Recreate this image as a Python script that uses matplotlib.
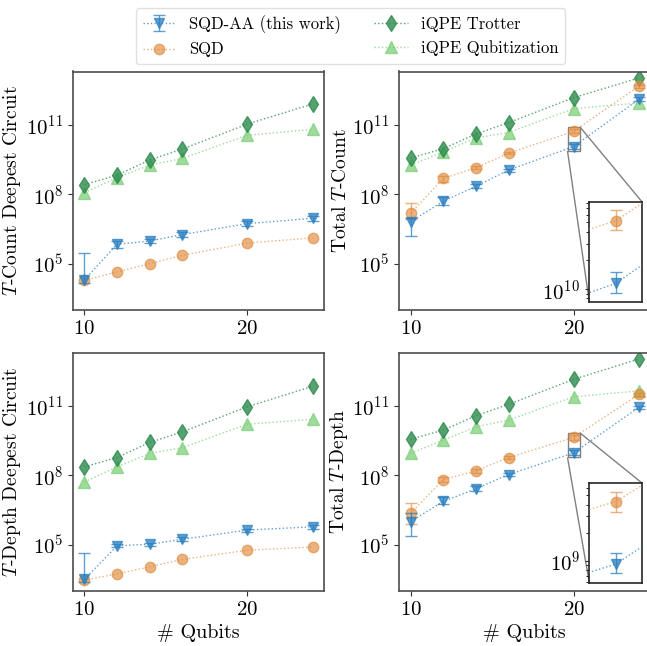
import numpy as np
import matplotlib
matplotlib.use("Agg")
import matplotlib.pyplot as plt
from matplotlib.ticker import FixedLocator, NullLocator, LogFormatterSciNotation, NullFormatter, LogLocator
from mpl_toolkits.axes_grid1.inset_locator import mark_inset

plt.rcParams.update({
    "font.family": "serif",
    "font.serif": ["cmr10"],
    "mathtext.fontset": "cm",
    "axes.formatter.use_mathtext": True,
    "axes.unicode_minus": False,
})

qubits = [10, 12, 14, 16, 20, 24]

# ---- T-Count Deepest Circuit ----
tcd_trotter = [2.6e8, 6.6e8, 3.0e9, 8.9e9, 1.07e11, 7.9e11]
tcd_qubit = [1.15e8, 5.2e8, 1.8e9, 3.5e9, 3.5e10, 6.3e10]
tcd_sqdaa = [2.0e4, 6.9e5, 9.5e5, 1.8e6, 5.4e6, 9.1e6]
tcd_sqdaa_lo = [1.5e4, 5.0e5, 8.0e5, 1.4e6, 4.3e6, 7.0e6]
tcd_sqdaa_hi = [2.9e5, 9.5e5, 1.15e6, 2.3e6, 6.8e6, 1.2e7]
tcd_sqd = [1.9e4, 4.4e4, 1.0e5, 2.3e5, 7.8e5, 1.3e6]

# ---- Total T-Count ----
ttc_trotter = [3.7e9, 9.3e9, 4.0e10, 1.23e11, 1.48e12, 1.05e13]
ttc_qubit = [1.8e9, 6.8e9, 2.7e10, 4.6e10, 5.0e11, 8.7e11]
ttc_sqd = [1.5e7, 4.8e8, 1.4e9, 5.9e9, 5.2e10, 4.6e12]
ttc_sqd_lo = [8.9e6, 3.5e8, 1.2e9, 5.2e9, 4.2e10, 4.0e12]
ttc_sqd_hi = [4.3e7, 6.3e8, 1.6e9, 6.6e9, 6.8e10, 5.2e12]
ttc_sqdaa = [6.5e6, 5.0e7, 2.2e8, 1.1e9, 1.15e10, 1.26e12]
ttc_sqdaa_lo = [1.5e6, 3.5e7, 1.8e8, 9.3e8, 9.1e9, 1.05e12]
ttc_sqdaa_hi = [9.8e6, 7.9e7, 2.8e8, 1.26e9, 1.5e10, 1.6e12]

# ---- T-Depth Deepest Circuit ----
tdd_trotter = [2.3e8, 5.8e8, 2.6e9, 7.4e9, 9.1e10, 6.9e11]
tdd_qubit = [5.1e7, 2.3e8, 8.7e8, 1.55e9, 1.6e10, 2.6e10]
tdd_sqdaa = [3.2e3, 8.9e4, 1.05e5, 1.7e5, 4.3e5, 5.9e5]
tdd_sqdaa_lo = [2.5e3, 7.6e4, 9.1e4, 1.4e5, 3.6e5, 5.0e5]
tdd_sqdaa_hi = [4.3e4, 1.12e5, 1.2e5, 2.1e5, 5.0e5, 7.1e5]
tdd_sqd = [3.0e3, 5.4e3, 1.1e4, 2.3e4, 5.8e4, 7.9e4]

# ---- Total T-Depth ----
ttd_trotter = [3.6e9, 8.9e9, 3.7e10, 1.15e11, 1.38e12, 1.05e13]
ttd_qubit = [8.7e8, 3.3e9, 1.23e10, 2.4e10, 2.45e11, 4.4e11]
ttd_sqd = [2.3e6, 6.5e7, 1.55e8, 5.8e8, 4.3e9, 3.1e11]
ttd_sqd_lo = [7.6e5, 5.0e7, 1.3e8, 5.0e8, 3.3e9, 2.7e11]
ttd_sqd_hi = [6.3e6, 8.5e7, 1.8e8, 6.6e8, 5.5e9, 3.5e11]
ttd_sqdaa = [1.0e6, 7.4e6, 2.6e7, 1.07e8, 9.3e8, 8.5e10]
ttd_sqdaa_lo = [2.3e5, 5.6e6, 2.1e7, 9.1e7, 7.4e8, 7.2e10]
ttd_sqdaa_hi = [2.3e6, 1.12e7, 3.3e7, 1.26e8, 1.23e9, 1.0e11]

labels = ["SQD-AA (this work)", "SQD", "iQPE Trotter", "iQPE Qubitization"]
ylabels = [r"$T$-Count Deepest Circuit", r"Total $T$-Count",
           r"$T$-Depth Deepest Circuit", r"Total $T$-Depth"]
xlabel = r"# Qubits"

c_blue = "#2a7fc1"
c_orange = "#e08a3c"
c_dgreen = "#2e8b4e"
c_lgreen = "#7fcf7a"


def asym(v, lo, hi):
    v = np.asarray(v); lo = np.asarray(lo); hi = np.asarray(hi)
    return np.vstack([v - lo, hi - v])


def draw(ax, sqdaa, sqdaa_err, sqd, sqd_err, trot, qub):
    common = dict(ls=":", lw=1.0, capsize=4, elinewidth=1.0, capthick=1.0)
    ax.errorbar(qubits, sqdaa, yerr=sqdaa_err, marker="v", ms=7.5, color=c_blue,
                alpha=0.75, label=labels[0], zorder=4, **common)
    ax.errorbar(qubits, sqd, yerr=sqd_err, marker="o", ms=7.5, color=c_orange,
                alpha=0.65, label=labels[1], zorder=3, **common)
    ax.errorbar(qubits, trot, yerr=None, marker="d", ms=8, color=c_dgreen,
                alpha=0.8, label=labels[2], zorder=2, **common)
    ax.errorbar(qubits, qub, yerr=None, marker="^", ms=8, color=c_lgreen,
                alpha=0.75, label=labels[3], zorder=1, **common)


W, H = 647, 646
fig = plt.figure(figsize=(W / 100, H / 100), dpi=100)

aw = 251 / W
ah = 238.5 / H
lefts = [73 / W, 399.3 / W]
bottoms = [1 - 310 / H, 1 - 591 / H]

panels = [
    (tcd_sqdaa, asym(tcd_sqdaa, tcd_sqdaa_lo, tcd_sqdaa_hi), tcd_sqd, None, tcd_trotter, tcd_qubit),
    (ttc_sqdaa, asym(ttc_sqdaa, ttc_sqdaa_lo, ttc_sqdaa_hi), ttc_sqd, asym(ttc_sqd, ttc_sqd_lo, ttc_sqd_hi), ttc_trotter, ttc_qubit),
    (tdd_sqdaa, asym(tdd_sqdaa, tdd_sqdaa_lo, tdd_sqdaa_hi), tdd_sqd, None, tdd_trotter, tdd_qubit),
    (ttd_sqdaa, asym(ttd_sqdaa, ttd_sqdaa_lo, ttd_sqdaa_hi), ttd_sqd, asym(ttd_sqd, ttd_sqd_lo, ttd_sqd_hi), ttd_trotter, ttd_qubit),
]

inset_ylims = {1: (10 ** 9.87, 10 ** 10.91), 3: (10 ** 8.77, 10 ** 9.83)}
inset_ticks = {1: [1e10], 3: [1e9]}

axes = []
for i, p in enumerate(panels):
    r, c = divmod(i, 2)
    ax = fig.add_axes([lefts[c], bottoms[r], aw, ah])
    axes.append(ax)
    draw(ax, *p)
    ax.set_yscale("log")
    ax.set_ylim(1e3, 10 ** 13.3)
    ax.set_xlim(9.3, 24.7)
    ax.set_xticks([10, 20])
    ax.yaxis.set_major_locator(FixedLocator([1e5, 1e8, 1e11]))
    ax.yaxis.set_major_formatter(LogFormatterSciNotation())
    ax.yaxis.set_minor_locator(NullLocator())
    ax.tick_params(labelsize=15, length=3.5, width=0.8, color="0.2")
    for s in ax.spines.values():
        s.set_color("0.3")
        s.set_linewidth(1.2)
    ax.set_ylabel(ylabels[i], fontsize=14, labelpad=2)
    if r == 1:
        ax.set_xlabel(xlabel, fontsize=14.5)

    if i in inset_ylims:
        axins = ax.inset_axes([0.757, 0.035, 0.211, 0.417])
        draw(axins, *p)
        axins.set_yscale("log")
        axins.set_xlim(19.62, 20.38)
        axins.set_ylim(*inset_ylims[i])
        axins.set_xticks([])
        axins.yaxis.set_major_locator(FixedLocator(inset_ticks[i]))
        axins.yaxis.set_major_formatter(LogFormatterSciNotation())
        axins.yaxis.set_minor_locator(LogLocator(base=10, subs=np.arange(2, 10)))
        axins.yaxis.set_minor_formatter(NullFormatter())
        axins.tick_params(labelsize=15, length=3, width=0.8, color="0.2")
        axins.tick_params(which="minor", length=2, width=0.6)
        for s in axins.spines.values():
            s.set_color("0.15")
            s.set_linewidth(1.2)
        mark_inset(ax, axins, loc1=1, loc2=3, fc="none", ec="0.5", lw=1.0)

handles, labs = axes[0].get_legend_handles_labels()
fig.legend(handles, labs, loc="upper center", bbox_to_anchor=(0.542, 1.0), ncol=2,
           fontsize=12, frameon=True, edgecolor="0.85", fancybox=True,
           handlelength=2.0, columnspacing=2.0)

fig.savefig("out.png", dpi=100)
